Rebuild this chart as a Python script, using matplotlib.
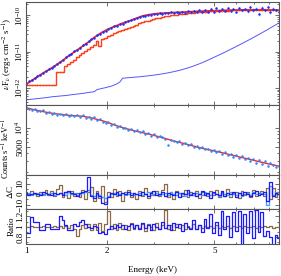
import numpy as np
import matplotlib
matplotlib.use("Agg")
import matplotlib.pyplot as plt
from matplotlib.ticker import FixedLocator, NullFormatter, FixedFormatter

plt.rcParams['font.family'] = ['Liberation Serif', 'DejaVu Serif']
plt.rcParams['mathtext.fontset'] = 'stix'

# ---------------- data ----------------
energy = [1.00, 1.025, 1.05, 1.076, 1.102, 1.129, 1.157, 1.186, 1.215, 1.245,
          1.275, 1.307, 1.339, 1.372, 1.405, 1.44, 1.475, 1.512, 1.549, 1.587,
          1.626, 1.666, 1.707, 1.749, 1.792, 1.836, 1.881, 1.927, 1.975, 2.023,
          2.073, 2.124, 2.176, 2.23, 2.285, 2.341, 2.398, 2.457, 2.518, 2.58,
          2.643, 2.708, 2.775, 2.843, 2.913, 2.985, 3.058, 3.133, 3.21, 3.289,
          3.37, 3.453, 3.538, 3.625, 3.714, 3.805, 3.899, 3.995, 4.093, 4.194,
          4.297, 4.402, 4.511, 4.622, 4.735, 4.852, 4.971, 5.093, 5.219, 5.347,
          5.478, 5.613, 5.751, 5.893, 6.038, 6.186, 6.338, 6.494, 6.654, 6.817,
          6.985, 7.157, 7.333, 7.513, 7.698, 7.887, 8.081, 8.28, 8.483, 8.692]

# nuFnu in 1e-12 erg cm^-2 s^-1
model_unabs = [1.25, 1.42, 1.6, 1.8, 2.02, 2.28, 2.56, 2.86, 3.17, 3.54,
               3.98, 4.5, 5.1, 5.8, 6.6, 7.6, 8.6, 9.8, 11.0, 12.5,
               14.2, 16.2, 18.3, 21, 24.5, 27.5, 31, 34.5, 38, 41.5,
               45, 48.5, 52, 56, 60, 64, 68, 72, 78, 83,
               89, 95, 99, 102, 105, 108, 110, 111.5, 113, 114,
               115.5, 117, 118, 119, 120, 121, 122, 123.5, 124.5, 125.5,
               126.5, 127.5, 128.5, 129.5, 130.5, 131.5, 132.5, 133, 134, 135,
               136, 136.5, 137, 137.5, 138, 138.5, 139, 139.5, 140, 140,
               140, 140, 139.5, 139.5, 139, 139, 138.5, 138, 137.5, 137]
data_unabs = [1.30, 1.55, 1.62, 1.85, 2.10, 2.30, 2.50, 2.95, 3.30, 3.45,
              4.10, 4.60, 5.30, 5.70, 7.00, 7.80, 8.40, 10.2, 11.3, 12.2,
              14.8, 16.0, 19.0, 21.5, 24.0, 28.5, 31.0, 35.0, 37.5, 42.0,
              44.0, 50.0, 51.0, 57.0, 59.0, 66.0, 67.0, 74.0, 77.0, 86.0,
              88.0, 97.0, 97.0, 104, 103, 111, 107, 115, 110, 118,
              113, 121, 114, 124, 117, 126, 118, 129, 121, 131,
              122, 135, 124, 140, 126, 150, 125, 160, 128, 145,
              130, 155, 132, 148, 125, 160, 135, 150, 128, 170,
              140, 150, 105, 160, 140, 165, 120, 150, 135, 125]
err_unabs = [0.05, 0.06, 0.07, 0.07, 0.08, 0.09, 0.1, 0.12, 0.13, 0.14,
             0.16, 0.18, 0.2, 0.23, 0.27, 0.3, 0.34, 0.4, 0.45, 0.5,
             0.6, 0.65, 0.75, 0.85, 1.0, 1.1, 1.3, 1.4, 1.5, 1.7,
             1.8, 2.0, 2.1, 2.3, 2.5, 2.7, 2.8, 3.0, 3.2, 3.5,
             4.4, 4.8, 4.9, 5.2, 5.2, 5.5, 5.4, 5.8, 5.5, 6.0,
             5.7, 6.1, 5.7, 6.2, 5.9, 6.3, 5.9, 6.5, 6.1, 6.6,
             9.8, 10.8, 9.9, 11.2, 10.1, 12.0, 10.0, 12.8, 10.2, 11.6,
             10.4, 12.4, 10.6, 11.8, 10.0, 12.8, 10.8, 12.0, 10.2, 13.6,
             16.8, 18.0, 12.6, 19.2, 16.8, 19.8, 14.4, 18.0, 16.2, 15.0]
data_abs = [1.2, 1.2, 1.2, 1.2, 1.2, 1.2, 1.2, 1.2, 1.2, 1.2,
            1.2, 2.7, 2.7, 2.7, 4.0, 4.6, 5.3, 6.0, 7.0, 7.9,
            9.0, 10.3, 11.8, 13.3, 15.5, 20.0, 14.0, 22.0, 24.0, 26.5,
            29.0, 31.5, 34.0, 36.5, 39.0, 42.0, 45.0, 48.0, 51.0, 55.0,
            60.0, 63.0, 67.0, 71.0, 74.0, 78.0, 82.0, 86.0, 89.0, 92.0,
            95.0, 98.0, 101, 104, 107, 109, 111, 113, 115, 117,
            119, 121, 123, 125, 126, 127.5, 129, 130, 131, 132,
            133, 134, 135, 135.5, 136, 136.5, 137, 137.5, 138, 138,
            138, 138, 137.5, 137.5, 137, 137, 137, 136.5, 136.5, 136]
model_comp = [0.47, 0.48, 0.49, 0.50, 0.51, 0.52, 0.53, 0.54, 0.555, 0.57,
              0.58, 0.59, 0.60, 0.61, 0.62, 0.635, 0.65, 0.665, 0.68, 0.695,
              0.71, 0.73, 0.75, 0.77, 0.79, 0.90, 0.94, 0.98, 1.02, 1.07,
              1.12, 1.20, 1.30, 1.45, 1.85, 1.88, 1.91, 1.94, 1.97, 2.00,
              2.03, 2.07, 2.11, 2.15, 2.20, 2.25, 2.31, 2.37, 2.44, 2.52,
              2.60, 2.70, 2.80, 2.92, 3.05, 3.20, 3.37, 3.56, 3.78, 4.02,
              4.30, 4.60, 4.95, 5.35, 5.80, 6.30, 6.85, 7.45, 8.10, 8.80,
              9.60, 10.5, 11.5, 12.6, 13.8, 15.1, 16.6, 18.2, 20.0, 22.0,
              24.3, 26.8, 29.6, 32.7, 36.2, 40.0, 44.5, 49.5, 55.0, 61.0]

# counts s^-1 keV^-1 in units of 1e3
model_counts = [20.8, 20.3, 19.8, 19.3, 18.9, 18.5, 18.1, 17.7, 17.4, 17.1,
                16.8, 16.6, 16.4, 16.2, 16.0, 15.8, 15.7, 15.6, 15.5, 15.4,
                15.2, 15.0, 14.7, 14.4, 14.0, 13.6, 13.3, 12.9, 12.5, 12.1,
                11.6, 11.2, 10.8, 10.4, 10.1, 9.8, 9.55, 9.3, 9.05, 8.8,
                8.6, 8.4, 8.2, 8.0, 7.8, 7.6, 7.4, 7.2, 7.0, 6.8,
                6.6, 6.4, 6.2, 6.05, 5.9, 5.75, 5.6, 5.45, 5.3, 5.15,
                5.0, 4.9, 4.75, 4.65, 4.55, 4.45, 4.35, 4.25, 4.15, 4.05,
                3.95, 3.85, 3.75, 3.66, 3.57, 3.48, 3.40, 3.32, 3.24, 3.16,
                3.08, 3.00, 2.93, 2.86, 2.79, 2.72, 2.66, 2.60, 2.54, 2.48]
data_counts = [21.3, 20.0, 19.4, 19.9, 18.6, 18.2, 18.9, 17.3, 17.6, 16.7,
               17.0, 16.2, 16.8, 16.0, 16.3, 15.5, 16.0, 15.2, 15.9, 14.6,
               15.7, 14.4, 15.1, 14.0, 14.6, 13.2, 13.8, 12.6, 12.0, 12.4,
               11.3, 11.7, 10.5, 10.9, 9.8, 10.1, 9.4, 9.7, 8.9, 9.2,
               8.5, 8.8, 8.1, 8.3, 7.5, 7.9, 7.3, 7.5, 7.1, 6.6,
               5.3, 6.5, 6.3, 5.9, 6.1, 5.6, 5.8, 5.3, 5.5, 5.0,
               5.2, 4.8, 4.9, 4.6, 4.7, 4.3, 4.5, 4.2, 4.3, 3.9,
               4.1, 3.7, 3.9, 3.5, 3.7, 3.4, 3.6, 3.2, 3.4, 3.0,
               3.2, 2.8, 3.1, 2.7, 3.0, 2.5, 2.8, 2.6, 2.4, 2.5]

# Delta C residuals
dc_brown = [2, -1, 3, 1, -2, 2, 0, 4, -1, 3,
            -2, 5, 9, -3, 2, -4, 3, -2, 1, -3,
            4, -5, 2, 7, -6, 3, -4, 8, -7, 2,
            -3, 5, -2, 3, -6, 2, 4, -3, 1, -5,
            3, -2, 6, -4, 2, -1, 3, -2, 4, 10,
            -3, 2, -5, 3, 1, -2, 4, -3, 2, -1,
            3, -4, 2, 1, -2, 3, -1, 4, -3, 2,
            -2, 5, -3, 1, 2, -4, 3, -1, 2, -3,
            4, -2, 1, 3, -2, 6, -5, 6, -3, 2]
dc_blue = [1, -1, 0, 1, 0, -1, 2, 1, 0, -1,
           1, 0, 1, -1, 2, 3, 1, 0, -2, 1,
           2, 3, 16, -2, -4, 1, -2, -8, -9, -3,
           1, 0, 2, -1, 1, 0, 2, -1, 1, 0,
           -1, 2, 0, -2, 1, 3, -1, 0, 2, -2,
           1, 0, -1, 2, -3, 1, 0, 4, -1, 1,
           -2, 0, 3, -1, 1, -4, 2, 0, -1, 3,
           -2, 1, 0, 2, -3, 1, -1, 2, 0, -2,
           1, 3, -1, 0, 2, -6, 11, -2, 1, 0]
dc_light = [0, 1, -1, 0, 1, 0, -1, 1, 0, 1,
            -1, 0, 1, 0, -1, 2, 0, 1, -1, 0,
            1, 2, 4, -1, -2, 0, -1, -3, -4, -2,
            0, 1, -1, 0, 1, -1, 0, 1, -1, 0,
            1, -1, 0, 2, -1, 0, 1, -1, 0, 1,
            -1, 2, 0, -1, 1, 0, -2, 1, 0, -1,
            1, 0, -1, 2, 0, -1, 1, 0, -2, 1,
            0, -1, 2, 0, -1, 1, -2, 0, 1, -1,
            2, 0, -1, 1, 0, -10, 8, -1, 2, 0]

# Ratio residuals
ratio_brown = [1.00, 1.00, 1.01, 1.00, 0.99, 1.00, 1.01, 1.00, 1.00, 0.99,
               1.01, 1.00, 1.02, 0.98, 1.01, 0.97, 1.03, 0.95, 0.82, 0.96,
               1.04, 0.97, 1.05, 0.94, 1.06, 0.93, 1.08, 0.92, 1.05, 1.30,
               0.95, 1.06, 0.94, 1.07, 0.96, 1.04, 0.93, 1.08, 0.95, 1.03,
               0.97, 1.06, 0.92, 1.05, 1.00, 0.94, 1.07, 0.96, 1.04, 1.32,
               0.95, 1.03, 0.93, 1.06, 0.97, 1.04, 0.95, 1.02, 0.98, 1.05,
               0.96, 1.03, 0.97, 1.02, 0.99, 1.01, 0.98, 1.03, 0.97, 1.02,
               0.99, 1.02, 0.98, 1.01, 0.99, 1.02, 0.98, 1.01, 1.00, 0.99,
               1.02, 0.98, 1.01, 0.99, 1.01, 0.99, 1.02, 0.98, 1.00, 1.00]
ratio_blue = [0.89, 0.89, 1.19, 1.10, 1.10, 0.93, 0.93, 1.05, 1.05, 0.96,
              0.96, 0.96, 1.20, 1.12, 1.04, 0.94, 0.94, 1.05, 1.02, 1.10,
              1.12, 1.05, 1.00, 0.98, 1.02, 0.99, 0.88, 0.90, 0.86, 0.95,
              1.02, 0.97, 1.04, 0.99, 1.03, 0.96, 1.02, 1.06, 0.97, 1.03,
              0.95, 1.08, 0.98, 1.04, 0.93, 1.06, 1.00, 0.96, 1.10, 0.97,
              1.03, 0.94, 1.08, 0.99, 1.05, 0.92, 1.07, 1.00, 0.95, 1.12,
              0.96, 1.04, 0.90, 1.15, 0.97, 1.25, 0.88, 1.10, 0.85, 1.30,
              0.95, 1.20, 0.80, 1.28, 0.92, 1.30, 0.62, 1.25, 0.88, 1.30,
              0.78, 1.32, 0.90, 1.28, 0.82, 0.92, 0.80, 0.60, 0.85, 0.78]

xticks_major = [1, 2, 5]
xticks_minor = [3, 4, 6, 7, 8]

# ---------------- figure ----------------
E = np.array(energy)
fig = plt.figure(figsize=(2.81, 2.76), dpi=100)
L, W = 26 / 281, 253 / 281
def frac(top, bot):
    return [L, 1 - bot / 276, W, (bot - top) / 276]

ax1 = fig.add_axes(frac(2, 105))
ax2 = fig.add_axes(frac(105, 175), sharex=ax1)
ax3 = fig.add_axes(frac(175, 209), sharex=ax1)
ax4 = fig.add_axes(frac(209, 244), sharex=ax1)

edge = '#555555'
fs = 6.5
for ax in (ax1, ax2, ax3, ax4):
    ax.set_xscale('log')
    for s in ax.spines.values():
        s.set_color(edge)
        s.set_linewidth(0.8)
    ax.tick_params(which='both', direction='in', top=True, right=True,
                   color=edge, labelsize=fs, width=0.6)
    ax.tick_params(axis='y', pad=1)
    ax.tick_params(axis='x', pad=2)
    ax.tick_params(which='major', length=3)
    ax.tick_params(which='minor', length=1.6)
    ax.xaxis.set_major_locator(FixedLocator(xticks_major))
    ax.xaxis.set_minor_locator(FixedLocator(xticks_minor))
    ax.xaxis.set_minor_formatter(NullFormatter())
    ax.set_xlim(1.0, 8.7)

for ax in (ax1, ax2, ax3):
    plt.setp(ax.get_xticklabels(), visible=False)

# panel 1
sc = 1e-12
ax1.set_yscale('log')
ax1.errorbar(E, np.array(data_abs) * sc, yerr=np.array(data_abs) * sc * 0.06,
             fmt='none', ecolor='#f2b060', elinewidth=0.6)
ax1.plot(E, np.array(data_abs) * sc, drawstyle='steps-mid', color='#ff4020', lw=1.0)
ax1.plot(E, np.array(model_comp) * sc, color='#5555ff', lw=0.7)
ax1.errorbar(E, np.array(data_unabs) * sc, yerr=np.array(err_unabs) * sc,
             fmt='o', ms=1.8, color='#1530ff', ecolor='#70e8ff', elinewidth=0.7,
             mew=0)
ax1.plot(E, np.array(model_unabs) * sc, color='#ff2020', lw=1.3)
ax1.set_ylim(3.4e-13, 2.3e-10)
ax1.set_ylabel(r'$\nu$F$_\nu$ (ergs cm$^{-2}$ s$^{-1}$)', fontsize=fs)

# panel 2
c = np.array(data_counts) * 1e3
ax2.set_yscale('log')
ax2.errorbar(E, c, yerr=c * 0.03, fmt='o', ms=1.8, color='#2a8cff',
             ecolor='#b0c8e0', elinewidth=0.6, mew=0)
ax2.plot(E, np.array(model_counts) * 1e3, color='#ff2020', lw=1.0)
ax2.set_ylim(1800, 2.3e4)
ax2.yaxis.set_major_locator(FixedLocator([5000, 10000]))
ax2.yaxis.set_major_formatter(FixedFormatter(['5000', r'$10^4$']))
ax2.yaxis.set_minor_locator(FixedLocator([2000, 3000, 4000, 6000, 7000, 8000, 9000, 20000]))
ax2.yaxis.set_minor_formatter(NullFormatter())
ax2.set_ylabel(r'Counts s$^{-1}$ keV$^{-1}$', fontsize=6)

# panel 3
ax3.plot(E, dc_brown, drawstyle='steps-mid', color='#8c6a46', lw=0.9)
ax3.plot(E, dc_light, drawstyle='steps-mid', color='#3aa0ff', lw=0.9)
ax3.plot(E, dc_blue, drawstyle='steps-mid', color='#1a1aff', lw=0.9)
ax3.set_ylim(-14, 18)
ax3.yaxis.set_major_locator(FixedLocator([-10, 0, 10]))
ax3.yaxis.set_minor_locator(FixedLocator([-5, 5, 15]))
ax3.set_ylabel(r'$\Delta$C', fontsize=fs)

# panel 4
ax4.plot(E, ratio_brown, drawstyle='steps-mid', color='#8c6a46', lw=0.9)
ax4.plot(E, ratio_blue, drawstyle='steps-mid', color='#1a1aff', lw=0.9)
ax4.set_ylim(0.67, 1.34)
ax4.yaxis.set_major_locator(FixedLocator([0.8, 1.0, 1.2]))
ax4.yaxis.set_major_formatter(FixedFormatter(['0.8', '1', '1.2']))
ax4.yaxis.set_minor_locator(FixedLocator([0.7, 0.9, 1.1, 1.3]))
ax4.set_ylabel('Ratio', fontsize=fs)
ax4.xaxis.set_major_formatter(FixedFormatter(['1', '2', '5']))
ax4.set_xlabel('Energy (keV)', fontsize=fs, labelpad=8)

for ax in (ax1, ax2, ax3, ax4):
    for lab in ax.get_yticklabels():
        lab.set_rotation(90)
        lab.set_va('center')
    ax.yaxis.set_label_coords(-0.042, 0.5)
ax2.yaxis.set_label_coords(-0.055, 0.38)

fig.savefig('out.png', dpi=100)
